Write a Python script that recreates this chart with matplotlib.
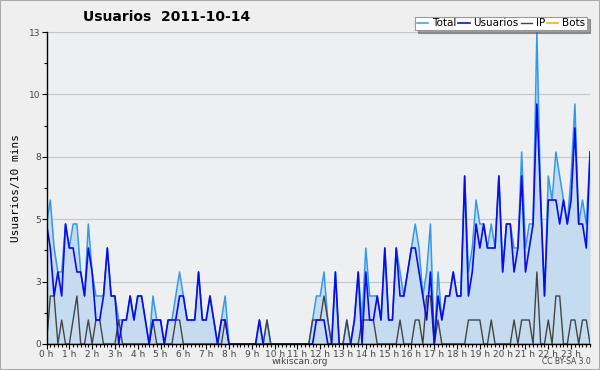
import matplotlib
matplotlib.use("Agg")
import matplotlib.pyplot as plt
from matplotlib.patches import Rectangle
from matplotlib.ticker import FixedLocator, FixedFormatter, MultipleLocator

# users per 10 minute slot, 2011-10-14 (144 slots)
usuarios = [5, 4, 2, 3, 2, 5, 4, 4, 3, 3, 2, 4,
            3, 1, 1, 2, 4, 2, 2, 0, 1, 1, 2, 1,
            2, 2, 1, 0, 1, 1, 1, 0, 1, 1, 1, 2,
            2, 1, 1, 1, 3, 1, 1, 2, 1, 0, 1, 1,
            0, 0, 0, 0, 0, 0, 0, 0, 1, 0, 0, 0,
            0, 0, 0, 0, 0, 0, 0, 0, 0, 0, 0, 1,
            1, 1, 0, 0, 3, 0, 0, 0, 0, 1, 3, 0,
            3, 1, 1, 2, 1, 4, 1, 1, 4, 2, 2, 3,
            4, 4, 3, 2, 1, 3, 0, 2, 1, 2, 2, 3,
            2, 2, 7, 2, 3, 5, 4, 5, 4, 4, 4, 7,
            3, 5, 5, 3, 4, 7, 3, 4, 5, 10, 6, 2,
            6, 6, 6, 5, 6, 5, 6, 9, 5, 5, 4, 8]

ip = [0, 2, 2, 0, 1, 0, 0, 1, 2, 0, 0, 1,
      0, 1, 1, 0, 0, 0, 0, 1, 0, 0, 0, 0,
      0, 0, 0, 0, 1, 0, 0, 0, 0, 0, 1, 1,
      0, 0, 0, 0, 0, 0, 0, 0, 0, 0, 0, 1,
      0, 0, 0, 0, 0, 0, 0, 0, 0, 0, 1, 0,
      0, 0, 0, 0, 0, 0, 0, 0, 0, 0, 1, 1,
      1, 2, 1, 0, 0, 0, 0, 1, 0, 0, 0, 1,
      1, 1, 1, 0, 0, 0, 0, 0, 0, 1, 0, 0,
      0, 1, 1, 0, 2, 2, 0, 1, 0, 0, 0, 0,
      0, 0, 0, 1, 1, 1, 1, 0, 0, 1, 0, 0,
      0, 0, 0, 1, 0, 1, 1, 1, 0, 3, 0, 0,
      1, 0, 2, 2, 0, 0, 1, 1, 0, 1, 1, 0]

total = [5, 6, 4, 3, 3, 5, 4, 5, 5, 3, 2, 5,
         3, 2, 2, 2, 4, 2, 2, 1, 1, 1, 2, 1,
         2, 2, 1, 0, 2, 1, 1, 0, 1, 1, 2, 3,
         2, 1, 1, 1, 3, 1, 1, 2, 1, 0, 1, 2,
         0, 0, 0, 0, 0, 0, 0, 0, 1, 0, 1, 0,
         0, 0, 0, 0, 0, 0, 0, 0, 0, 0, 1, 2,
         2, 3, 1, 0, 3, 0, 0, 1, 0, 1, 3, 1,
         4, 2, 2, 2, 1, 4, 1, 1, 4, 3, 2, 3,
         4, 5, 4, 2, 3, 5, 0, 3, 1, 2, 2, 3,
         2, 2, 7, 3, 4, 6, 5, 5, 4, 5, 4, 7,
         3, 5, 5, 4, 4, 8, 4, 5, 5, 13, 6, 2,
         7, 6, 8, 7, 6, 5, 7, 10, 5, 6, 5, 8]

bots = [0] * 144

slots = list(range(len(total)))
hour_labels = [f"{h} h" for h in range(24)]
y_labels = ["0", "3", "5", "8", "10", "13"]

bg = "#efefef"
fig = plt.figure(figsize=(6, 3.7), dpi=100, facecolor=bg)
ax = fig.add_axes([0.0775, 0.0703, 0.906, 0.8432])
ax.set_facecolor("#eeeff1")
fig.patches.append(Rectangle((0, 0), 1, 1, transform=fig.transFigure,
                             fill=False, edgecolor="#aaaaaa", linewidth=1.5))

ax.fill_between(slots, total, 0, color="#c5dcf0", linewidth=0, zorder=1)
ax.plot(slots, bots, color="#ffa500", lw=1.1, zorder=1.2, label="Bots")
ax.plot(slots, total, color="#3399ee", lw=1.1, zorder=2, label="Total")
ax.plot(slots, usuarios, color="#0a0aee", lw=1.2, zorder=2.2, label="Usuarios")
ax.plot(slots, ip, color="#444444", lw=1.0, zorder=2.1, label="IP")

ax.set_xlim(0, 143)
ax.set_ylim(0, 13)

yt = [13 * k / 5 for k in range(6)]
ax.yaxis.set_major_locator(FixedLocator(yt))
ax.yaxis.set_major_formatter(FixedFormatter(y_labels))
ax.yaxis.set_minor_locator(FixedLocator([v + 1.3 for v in yt[:-1]]))
ax.grid(axis="y", color="#c8c8c8", lw=0.9)
ax.set_axisbelow(True)

ax.xaxis.set_major_locator(FixedLocator(range(0, 144, 6)))
ax.xaxis.set_major_formatter(FixedFormatter(hour_labels))
ax.xaxis.set_minor_locator(MultipleLocator(1))

ax.tick_params(axis="both", which="major", labelsize=6.5, labelcolor="#444444",
               length=3.5, width=0.8, pad=0.5)
ax.tick_params(axis="both", which="minor", length=2.5, width=0.8)
for s in ["top", "right"]:
    ax.spines[s].set_visible(False)
for s in ["left", "bottom"]:
    ax.spines[s].set_linewidth(1.0)
    ax.spines[s].set_zorder(3)

ax.set_ylabel("Usuarios/10 mins", fontsize=8, family="DejaVu Sans Mono", labelpad=6)

fig.text(0.138, 0.955, "Usuarios  2011-10-14", fontsize=10, fontweight="bold",
         ha="left", va="center")

h = ax.get_legend_handles_labels()[0]
order = [1, 2, 3, 0]
leg = fig.legend([h[i] for i in order], ["Total", "Usuarios", "IP", "Bots"],
                 loc="upper right", bbox_to_anchor=(0.978, 0.955), ncol=4,
                 fontsize=7.5, frameon=True, fancybox=False, shadow=True,
                 handlelength=1.1, handletextpad=0.35, columnspacing=0.2,
                 borderpad=0.15, borderaxespad=0)
leg.get_frame().set_edgecolor("#999999")
leg.get_frame().set_linewidth(0.8)

fig.text(0.5, 0.022, "wikiscan.org", fontsize=6.5, color="#444444",
         ha="center", va="center")
fig.text(0.985, 0.022, "CC BY-SA 3.0", fontsize=5.5, color="#444444",
         ha="right", va="center")

fig.savefig("out.png", dpi=100, facecolor=bg)
